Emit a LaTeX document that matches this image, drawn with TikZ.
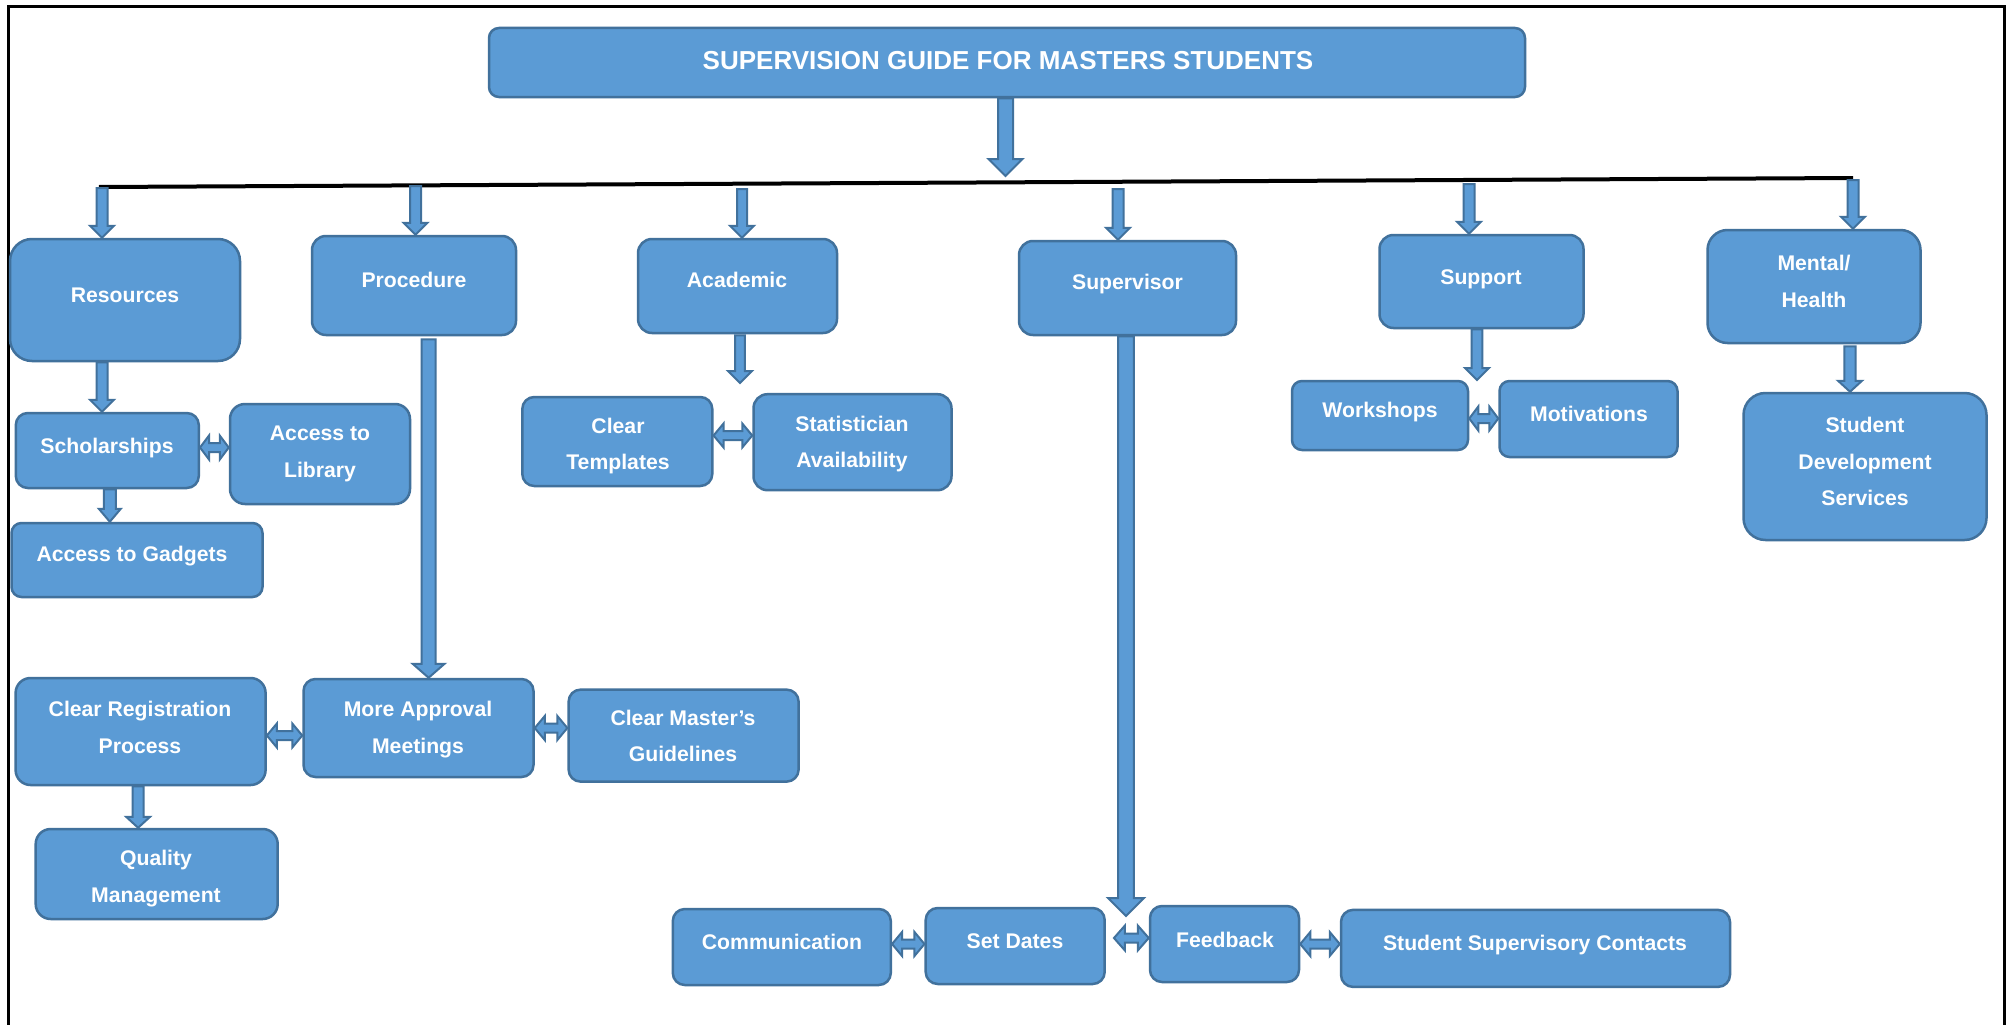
\documentclass[tikz,border=0pt]{standalone}
\usepackage{fontspec}
\setmainfont{Liberation Sans}
\usetikzlibrary{calc}
\definecolor{fillc}{HTML}{5B9BD5}
\definecolor{bordc}{HTML}{41719C}
% down block arrow: x from #1, tip y from #2; #3 shaft half, #4 head half, #5 head length
\newcommand\dnarrow[5]{%
  \draw[blk] let \p1=#1, \p2=#2 in
    (\x1-#3,\y1) -- (\x1+#3,\y1) -- (\x1+#3,\y2+#5) -- (\x1+#4,\y2+#5) --
    (\x1,\y2) -- (\x1-#4,\y2+#5) -- (\x1-#3,\y2+#5) -- cycle;}
% horizontal double block arrow: y from #1
\newcommand\dblarrow[5]{%
  \draw[blk] let \p1=#1, \p2=#2 in
    (\x1,\y1) -- (\x1+#5,\y1+#4) -- (\x1+#5,\y1+#3) -- (\x2-#5,\y1+#3) --
    (\x2-#5,\y1+#4) -- (\x2,\y1) -- (\x2-#5,\y1-#4) -- (\x2-#5,\y1-#3) --
    (\x1+#5,\y1-#3) -- (\x1+#5,\y1-#4) -- cycle;}
\begin{document}
\begin{tikzpicture}[x=1pt,y=-1pt,
  box/.style={draw=bordc, fill=fillc, line width=2.5pt, inner sep=0pt, rounded corners=12pt},
  txt/.style={text=white, font=\bfseries\fontsize{21.2}{25}\selectfont, inner sep=0pt, text height=15.2pt, text depth=0pt},
  ttl/.style={text=white, font=\bfseries\fontsize{26}{30}\selectfont, inner sep=0pt, text height=18.6pt, text depth=0pt},
  blk/.style={draw=bordc, fill=fillc, line width=2pt, line join=miter}]
\useasboundingbox (0,0) rectangle (2013,1025);
\fill[white] (0,0) rectangle (2013,1025);
% frame
\draw[line width=3pt] (8,1030) -- (8,7) -- (2004,7) -- (2004,1030);

% boxes
\node[box, minimum width=1036pt, minimum height=69pt, rounded corners=10pt] (title) at (1007,62.5) {};
\node[box, minimum width=230pt, minimum height=122pt, rounded corners=22pt] (res) at (125,300) {};
\node[box, minimum width=204pt, minimum height=99pt, rounded corners=14pt] (proc) at (414,285.5) {};
\node[box, minimum width=199pt, minimum height=94pt, rounded corners=14pt] (acad) at (737.5,286) {};
\node[box, minimum width=217pt, minimum height=94pt, rounded corners=14pt] (sup) at (1127.5,288) {};
\node[box, minimum width=204pt, minimum height=93pt, rounded corners=14pt] (supp) at (1481.5,281.5) {};
\node[box, minimum width=213pt, minimum height=113pt, rounded corners=20pt] (ment) at (1814,286.5) {};
\node[box, minimum width=183pt, minimum height=75pt] (sch) at (107.3,450.5) {};
\node[box, minimum width=180pt, minimum height=100pt, rounded corners=15pt] (lib) at (320,454) {};
\node[box, minimum width=251pt, minimum height=74pt, rounded corners=10pt] (gad) at (137,560) {};
\node[box, minimum width=250pt, minimum height=107pt, rounded corners=15pt] (crp) at (140.6,731.5) {};
\node[box, minimum width=230pt, minimum height=98pt] (mam) at (418.5,728) {};
\node[box, minimum width=230pt, minimum height=92pt] (cmg) at (683.6,735.6) {};
\node[box, minimum width=242pt, minimum height=90pt, rounded corners=15pt] (qm) at (156.7,874) {};
\node[box, minimum width=190pt, minimum height=89pt] (ct) at (617.3,441.5) {};
\node[box, minimum width=198pt, minimum height=96pt, rounded corners=14pt] (stat) at (852.5,442.2) {};
\node[box, minimum width=176pt, minimum height=69pt, rounded corners=10pt] (ws) at (1380,415.5) {};
\node[box, minimum width=178pt, minimum height=76pt, rounded corners=10pt] (mot) at (1588.5,419) {};
\node[box, minimum width=243pt, minimum height=147pt, rounded corners=22pt] (sds) at (1865,466.5) {};
\node[box, minimum width=218pt, minimum height=76pt] (comm) at (781.8,947) {};
\node[box, minimum width=179pt, minimum height=76pt] (sd) at (1015.2,946) {};
\node[box, minimum width=149pt, minimum height=76pt] (fb) at (1224.5,944) {};
\node[box, minimum width=389pt, minimum height=77pt] (ssc) at (1535.5,948.4) {};

% texts
\node[ttl] (title-t) at (1008,60) {SUPERVISION GUIDE FOR MASTERS STUDENTS};
\node[txt] (res-t) at (125,295) {Resources};
\node[txt] (proc-t) at (414,280) {Procedure};
\node[txt] (acad-t) at (737,280) {Academic};
\node[txt] (sup-t) at (1127.5,282) {Supervisor};
\node[txt] (supp-t) at (1481,277) {Support};
\node[txt] (ment-t1) at (1814,263) {Mental/};
\node[txt] (ment-t2) at (1814,300) {Health};
\node[txt] (sch-t) at (107,446) {Scholarships};
\node[txt] (lib-t1) at (320,433) {Access to};
\node[txt] (lib-t2) at (320,470) {Library};
\node[txt] (gad-t) at (132,554) {Access to Gadgets};
\node[txt] (crp-t1) at (140,709) {Clear Registration};
\node[txt] (crp-t2) at (140,746) {Process};
\node[txt] (mam-t1) at (418,709) {More Approval};
\node[txt] (mam-t2) at (418,746) {Meetings};
\node[txt] (cmg-t1) at (683,718) {Clear Master’s};
\node[txt] (cmg-t2) at (683,754) {Guidelines};
\node[txt] (qm-t1) at (156,858) {Quality};
\node[txt] (qm-t2) at (156,895) {Management};
\node[txt] (ct-t1) at (618,426) {Clear};
\node[txt] (ct-t2) at (618,462) {Templates};
\node[txt] (stat-t1) at (852,424) {Statistician};
\node[txt] (stat-t2) at (852,460) {Availability};
\node[txt] (ws-t) at (1380,410) {Workshops};
\node[txt] (mot-t) at (1589,414) {Motivations};
\node[txt] (sds-t1) at (1865,425) {Student};
\node[txt] (sds-t2) at (1865,462) {Development};
\node[txt] (sds-t3) at (1865,498) {Services};
\node[txt] (comm-t) at (782,942) {Communication};
\node[txt] (sd-t) at (1015,941) {Set Dates};
\node[txt] (fb-t) at (1225,940) {Feedback};
\node[txt] (ssc-t) at (1535,943) {Student Supervisory Contacts};

% branch line and coordinates
\coordinate (L) at (99,187);
\coordinate (R) at (1853,178);
\draw[line width=4pt] (L) -- (R);
\coordinate (hub) at (1005.5,176);
\coordinate (a1) at (102,188);
\coordinate (a2) at (415.5,186);
\coordinate (a3) at (742,189);
\coordinate (a4) at (1118,189);
\coordinate (a5) at (1469,184);
\coordinate (a6) at (1853,180);
\coordinate (acadend) at (740,383);
\coordinate (supend) at (1126,916);
\coordinate (suppend) at (1477,380);

% down arrows
\dnarrow{(hub |- title.south)}{(hub)}{7.5pt}{17pt}{17pt}
\dnarrow{(a1)}{(res.north)}{5.5pt}{12pt}{12pt}
\dnarrow{(a2)}{(proc.north)}{5.5pt}{12pt}{12pt}
\dnarrow{(a3)}{(acad.north)}{5pt}{12pt}{12pt}
\dnarrow{(a4)}{(sup.north)}{5.5pt}{12pt}{12pt}
\dnarrow{(a5)}{(supp.north)}{5.5pt}{12pt}{12pt}
\dnarrow{(a6)}{(ment.north)}{5.5pt}{12pt}{12pt}
\dnarrow{(a1 |- res.south)}{(sch.north)}{5.5pt}{12pt}{12pt}
\dnarrow{($(sch.south)+(2.5,0)$)}{(gad.north)}{6pt}{11pt}{13pt}
\dnarrow{($(proc.south)+(14.6,3)$)}{(mam.north)}{7pt}{16pt}{14pt}
\dnarrow{($(acad.south)+(2.5,1)$)}{(acadend)}{4.8pt}{12pt}{12pt}
\dnarrow{($(sup.south)+(-1.5,0)$)}{(supend)}{7.8pt}{18pt}{18pt}
\dnarrow{(suppend |- supp.south)}{(suppend)}{5.4pt}{12pt}{12pt}
\dnarrow{($(ment.south)+(36,2)$)}{(sds.north)}{5.6pt}{12pt}{11pt}
\dnarrow{($(crp.south)+(-2.5,0)$)}{(qm.north)}{5.4pt}{12pt}{11pt}

% double arrows
\dblarrow{($(sch.east)+(0,-3)$)}{(lib.west)}{4.5pt}{12pt}{9pt}
\dblarrow{($(crp.east)+(0,4)$)}{(mam.west)}{4.5pt}{12pt}{10pt}
\dblarrow{(mam.east)}{(cmg.west)}{4.5pt}{12pt}{10pt}
\dblarrow{($(ct.east)+(0,-6)$)}{(stat.west)}{4.5pt}{12pt}{10pt}
\dblarrow{($(ws.east)+(0,3)$)}{(mot.west)}{4.5pt}{12pt}{9pt}
\dblarrow{($(comm.east)+(0,-3)$)}{(sd.west)}{4.5pt}{12pt}{10pt}
\dblarrow{($(sd.east)+(8,-8)$)}{(fb.west)}{4.5pt}{12.5pt}{11pt}
\dblarrow{(fb.east)}{(ssc.west)}{4.5pt}{12pt}{10pt}
\end{tikzpicture}
\end{document}
